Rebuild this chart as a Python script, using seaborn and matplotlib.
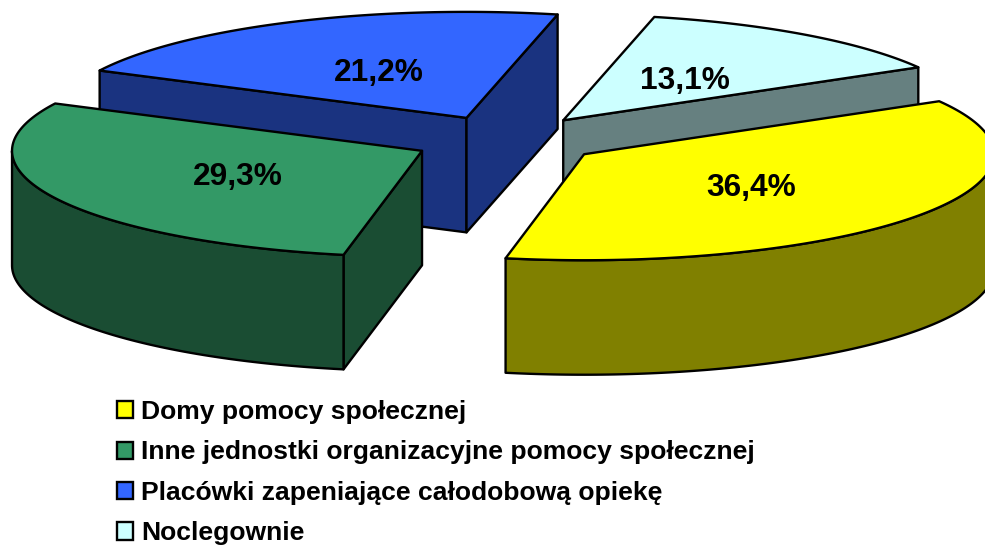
import numpy as np
import matplotlib
matplotlib.use("Agg")
import matplotlib.pyplot as plt
from matplotlib.patches import Polygon, Patch
import seaborn as sns

# dane
kategorie = ["Domy pomocy społecznej",
             "Inne jednostki organizacyjne pomocy społecznej",
             "Placówki zapeniające całodobową opiekę",
             "Noclegownie"]
wartosci = [36.4, 29.3, 21.2, 13.1]
etykiety = ["36,4%", "29,3%", "21,2%", "13,1%"]
kolory = ["#ffff00", "#339966", "#3366ff", "#ccffff"]

# geometria pseudo 3D w pikselach
CX, CY = 507, 140
RX, RY = 410, 106
GLEBOKOSC = 114.5
ROZSUNIECIE = 0.231
START = 30.0

sns.set_theme(style="white")
plt.rcParams["font.family"] = ["Liberation Sans", "DejaVu Sans"]
paleta = sns.color_palette(kolory)

fig, ax = plt.subplots(figsize=(9.85, 5.45), dpi=100)
ax.set_position([0, 0, 1, 1])
ax.set_xlim(0, 985)
ax.set_ylim(545, 0)
ax.axis("off")


def punkt(x0, y0, kat):
    kat = np.radians(kat)
    return x0 + RX * np.cos(kat), y0 - RY * np.sin(kat)


def wycinek(i, a, b):
    # a > b, idziemy zgodnie ze wskazowkami zegara
    mid = (a + b) / 2
    x0, y0 = punkt(0, 0, mid)
    x0, y0 = CX + ROZSUNIECIE * x0, CY + ROZSUNIECIE * y0
    gora = paleta[i]
    bok = tuple(c * 0.5 for c in gora)
    styl = dict(edgecolor="black", linewidth=1.7, joinstyle="round")

    # sciany boczne promieniowe
    for kat, widoczna in ((a, np.cos(np.radians(a)) < 0), (b, np.cos(np.radians(b)) > 0)):
        if widoczna:
            x1, y1 = punkt(x0, y0, kat)
            ax.add_patch(Polygon([(x0, y0), (x1, y1), (x1, y1 + GLEBOKOSC), (x0, y0 + GLEBOKOSC)],
                                 facecolor=bok, **styl))

    # sciana zewnetrzna, tylko przednia czesc luku
    for przesun in (0, -360):
        lo, hi = max(b, -180 + przesun), min(a, 0 + przesun)
        if hi > lo:
            t = np.linspace(hi, lo, 120)
            xs, ys = punkt(x0, y0, t)
            pts = np.r_[np.c_[xs, ys], np.c_[xs[::-1], ys[::-1] + GLEBOKOSC]]
            ax.add_patch(Polygon(pts, facecolor=bok, **styl))

    # gorna powierzchnia
    t = np.linspace(a, b, 200)
    xs, ys = punkt(x0, y0, t)
    pts = np.r_[[(x0, y0)], np.c_[xs, ys]]
    ax.add_patch(Polygon(pts, facecolor=gora, **styl))

    xt, yt = punkt(0, 0, mid)
    ax.text(x0 + 0.5 * xt, y0 + 0.5 * yt + 3, etykiety[i], ha="center", va="center",
            fontsize=22.8, fontweight="bold", color="black")


katy = START - np.cumsum([0] + [w * 3.6 for w in wartosci])
# kolejnosc rysowania: od tylu do przodu
for i in [2, 3, 1, 0]:
    wycinek(i, katy[i], katy[i + 1])

uchwyty = [Patch(facecolor=paleta[i], edgecolor="black", linewidth=1.7) for i in range(4)]
leg = ax.legend(uchwyty, kategorie, loc="upper left", bbox_to_anchor=(0.1185, 0.266),
                frameon=False, handlelength=0.62, handleheight=0.62, handletextpad=0.3,
                labelspacing=0.62, borderpad=0, borderaxespad=0,
                prop={"size": 19.05, "weight": "bold"})
for t in leg.get_texts():
    t.set_color("black")

plt.savefig("out.png", dpi=100)
